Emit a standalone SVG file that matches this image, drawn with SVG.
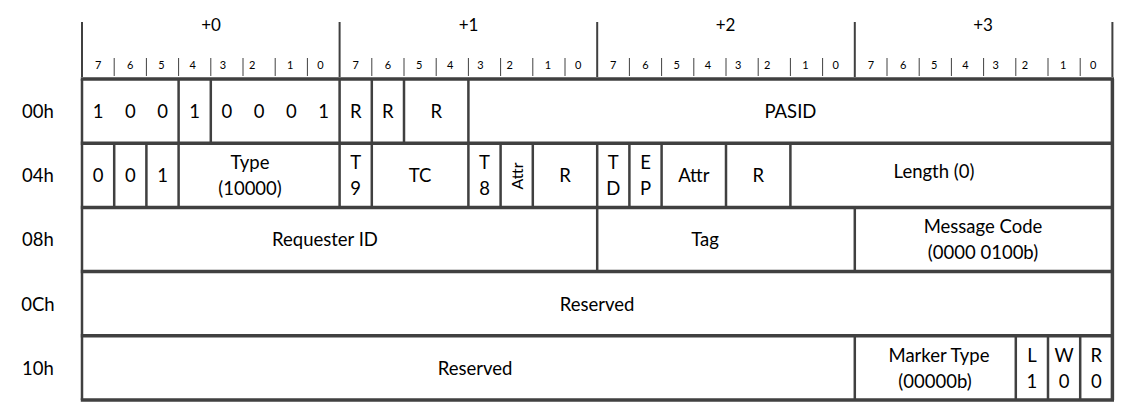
<svg xmlns="http://www.w3.org/2000/svg" width="1123" height="413" viewBox="0 0 1123 413">
<style>
.t{font-family:Lato,"Liberation Sans",sans-serif;font-size:18.5px;fill:#000;text-anchor:middle}
.b{font-family:Lato,"Liberation Sans",sans-serif;font-size:11px;fill:#000;text-anchor:middle}
.h{font-family:Lato,"Liberation Sans",sans-serif;font-size:17px;fill:#000;text-anchor:middle}
.s{font-family:Lato,"Liberation Sans",sans-serif;font-size:16px;fill:#000;text-anchor:middle}
.hl{stroke:#404040;stroke-width:3.5;fill:none}
.vl{stroke:#404040;stroke-width:2.5;fill:none}
.tk{stroke:#404040;stroke-width:1;fill:none}
.bt{stroke:#404040;stroke-width:2;fill:none}
</style>
<g id="header">
<text class="h" x="211" y="31">+0</text>
<text class="h" x="468.6" y="31">+1</text>
<text class="h" x="725.6" y="31">+2</text>
<text class="h" x="983" y="31">+3</text>
<path class="bt" d="M82,22V77M339.6,22V77M597.2,22V77M854.8,22V77M1112.4,22V77"/>
<path class="tk" d="M114.2,58V76M146.4,58V76M178.6,58V76M210.8,58V76M243,58V76M275.2,58V76M307.4,58V76M371.8,58V76M404,58V76M436.2,58V76M468.4,58V76M500.6,58V76M532.8,58V76M565,58V76M629.4,58V76M661.6,58V76M693.8,58V76M726,58V76M758.2,58V76M790.4,58V76M822.6,58V76M887,58V76M919.2,58V76M951.4,58V76M983.6,58V76M1015.8,58V76M1048,58V76M1080.2,58V76"/>
<g id="bits0"><text class="b" x="98.1" y="69">7</text><text class="b" x="130.3" y="69">6</text><text class="b" x="161.5" y="69">5</text><text class="b" x="192.7" y="69">4</text><text class="b" x="222.9" y="69">3</text><text class="b" x="252.1" y="69">2</text><text class="b" x="290.3" y="69">1</text><text class="b" x="320.5" y="69">0</text></g>
<g id="bits1"><text class="b" x="355.7" y="69">7</text><text class="b" x="387.9" y="69">6</text><text class="b" x="419.1" y="69">5</text><text class="b" x="450.3" y="69">4</text><text class="b" x="480.5" y="69">3</text><text class="b" x="509.7" y="69">2</text><text class="b" x="547.9" y="69">1</text><text class="b" x="578.1" y="69">0</text></g>
<g id="bits2"><text class="b" x="613.3" y="69">7</text><text class="b" x="645.5" y="69">6</text><text class="b" x="676.7" y="69">5</text><text class="b" x="707.9" y="69">4</text><text class="b" x="738.1" y="69">3</text><text class="b" x="767.3" y="69">2</text><text class="b" x="805.5" y="69">1</text><text class="b" x="835.7" y="69">0</text></g>
<g id="bits3"><text class="b" x="870.9" y="69">7</text><text class="b" x="903.1" y="69">6</text><text class="b" x="934.3" y="69">5</text><text class="b" x="965.5" y="69">4</text><text class="b" x="995.7" y="69">3</text><text class="b" x="1024.9" y="69">2</text><text class="b" x="1063.1" y="69">1</text><text class="b" x="1093.3" y="69">0</text></g>
</g>
<g id="row-labels">
<text class="t" x="38" y="117.6">00h</text>
<text class="t" x="38" y="181.6">04h</text>
<text class="t" x="38" y="246">08h</text>
<text class="t" x="38" y="310.6">0Ch</text>
<text class="t" x="38" y="374.6">10h</text>
</g>
<g id="grid">
<path class="vl" d="M82,79V400"/>
<path class="hl" d="M1112.4,79V400"/>
<path class="hl" d="M80.8,79H1114M80.8,143.2H1114M80.8,207.4H1114M80.8,271.6H1114M80.8,335.8H1114M80.8,400H1114"/>
<path class="vl" d="M178.6,79V143.2M210.8,79V143.2M339.6,79V143.2M371.8,79V143.2M404,79V143.2M468.4,79V143.2"/>
<path class="vl" d="M114.2,143.2V207.4M146.4,143.2V207.4M178.6,143.2V207.4M339.6,143.2V207.4M371.8,143.2V207.4M468.4,143.2V207.4M500.6,143.2V207.4M532.8,143.2V207.4M597.2,143.2V207.4M629.4,143.2V207.4M661.6,143.2V207.4M726,143.2V207.4M790.4,143.2V207.4"/>
<path class="vl" d="M597.2,207.4V271.6M854.8,207.4V271.6"/>
<path class="vl" d="M854.8,335.8V400M1015.8,335.8V400M1048,335.8V400M1080.2,335.8V400"/>
</g>
<g id="f-fmt"><text class="t" x="98.1" y="117.6">1</text><text class="t" x="130.3" y="117.6">0</text><text class="t" x="162.5" y="117.6">0</text></g>
<g id="f-t9b"><text class="t" x="194.7" y="117.6">1</text></g>
<g id="f-type0"><text class="t" x="226.9" y="117.6">0</text><text class="t" x="259.1" y="117.6">0</text><text class="t" x="291.3" y="117.6">0</text><text class="t" x="323.5" y="117.6">1</text></g>
<g id="f-r0a"><text class="t" x="355.7" y="117.6">R</text></g>
<g id="f-r0b"><text class="t" x="387.9" y="117.6">R</text></g>
<g id="f-r0c"><text class="t" x="436.2" y="117.6">R</text></g>
<g id="f-pasid"><text class="t" x="790.4" y="117.6">PASID</text></g>
<g id="f-fmt2"><text class="t" x="98.1" y="181.6">0</text></g>
<g id="f-fmt1"><text class="t" x="130.3" y="181.6">0</text></g>
<g id="f-fmt0"><text class="t" x="162.5" y="181.6">1</text></g>
<g id="f-type"><text class="t" x="250" y="168.6">Type</text><text class="t" x="250" y="194.6">(10000)</text></g>
<g id="f-t9"><text class="t" x="355.7" y="168.6">T</text><text class="t" x="355.7" y="194.6">9</text></g>
<g id="f-tc"><text class="t" x="420.1" y="181.6">TC</text></g>
<g id="f-t8"><text class="t" x="484.5" y="168.6">T</text><text class="t" x="484.5" y="194.6">8</text></g>
<g id="f-attr1"><text class="s" transform="translate(522.5,176) rotate(-90)" x="0" y="0">Attr</text></g>
<g id="f-r1"><text class="t" x="565" y="181.6">R</text></g>
<g id="f-td"><text class="t" x="613.3" y="168.6">T</text><text class="t" x="613.3" y="194.6">D</text></g>
<g id="f-ep"><text class="t" x="645.5" y="168.6">E</text><text class="t" x="645.5" y="194.6">P</text></g>
<g id="f-attr2"><text class="t" x="693.8" y="181.6">Attr</text></g>
<g id="f-r2"><text class="t" x="758.2" y="181.6">R</text></g>
<g id="f-length"><text class="t" x="934" y="177.6">Length (0)</text></g>
<g id="f-reqid"><text class="t" x="325" y="246">Requester ID</text></g>
<g id="f-tag"><text class="t" x="705" y="246">Tag</text></g>
<g id="f-msgcode"><text class="t" x="983" y="232.6">Message Code</text><text class="t" x="983" y="258.6">(0000 0100b)</text></g>
<g id="f-res0c"><text class="t" x="597" y="310.6">Reserved</text></g>
<g id="f-res10"><text class="t" x="475" y="374.6">Reserved</text></g>
<g id="f-marker"><text class="t" x="939" y="361.6">Marker Type</text><text class="t" x="935" y="387.6">(00000b)</text></g>
<g id="f-l"><text class="t" x="1031.9" y="361.6">L</text><text class="t" x="1031.9" y="387.6">1</text></g>
<g id="f-w"><text class="t" x="1064.1" y="361.6">W</text><text class="t" x="1064.1" y="387.6">0</text></g>
<g id="f-r"><text class="t" x="1096.3" y="361.6">R</text><text class="t" x="1096.3" y="387.6">0</text></g>
</svg>
